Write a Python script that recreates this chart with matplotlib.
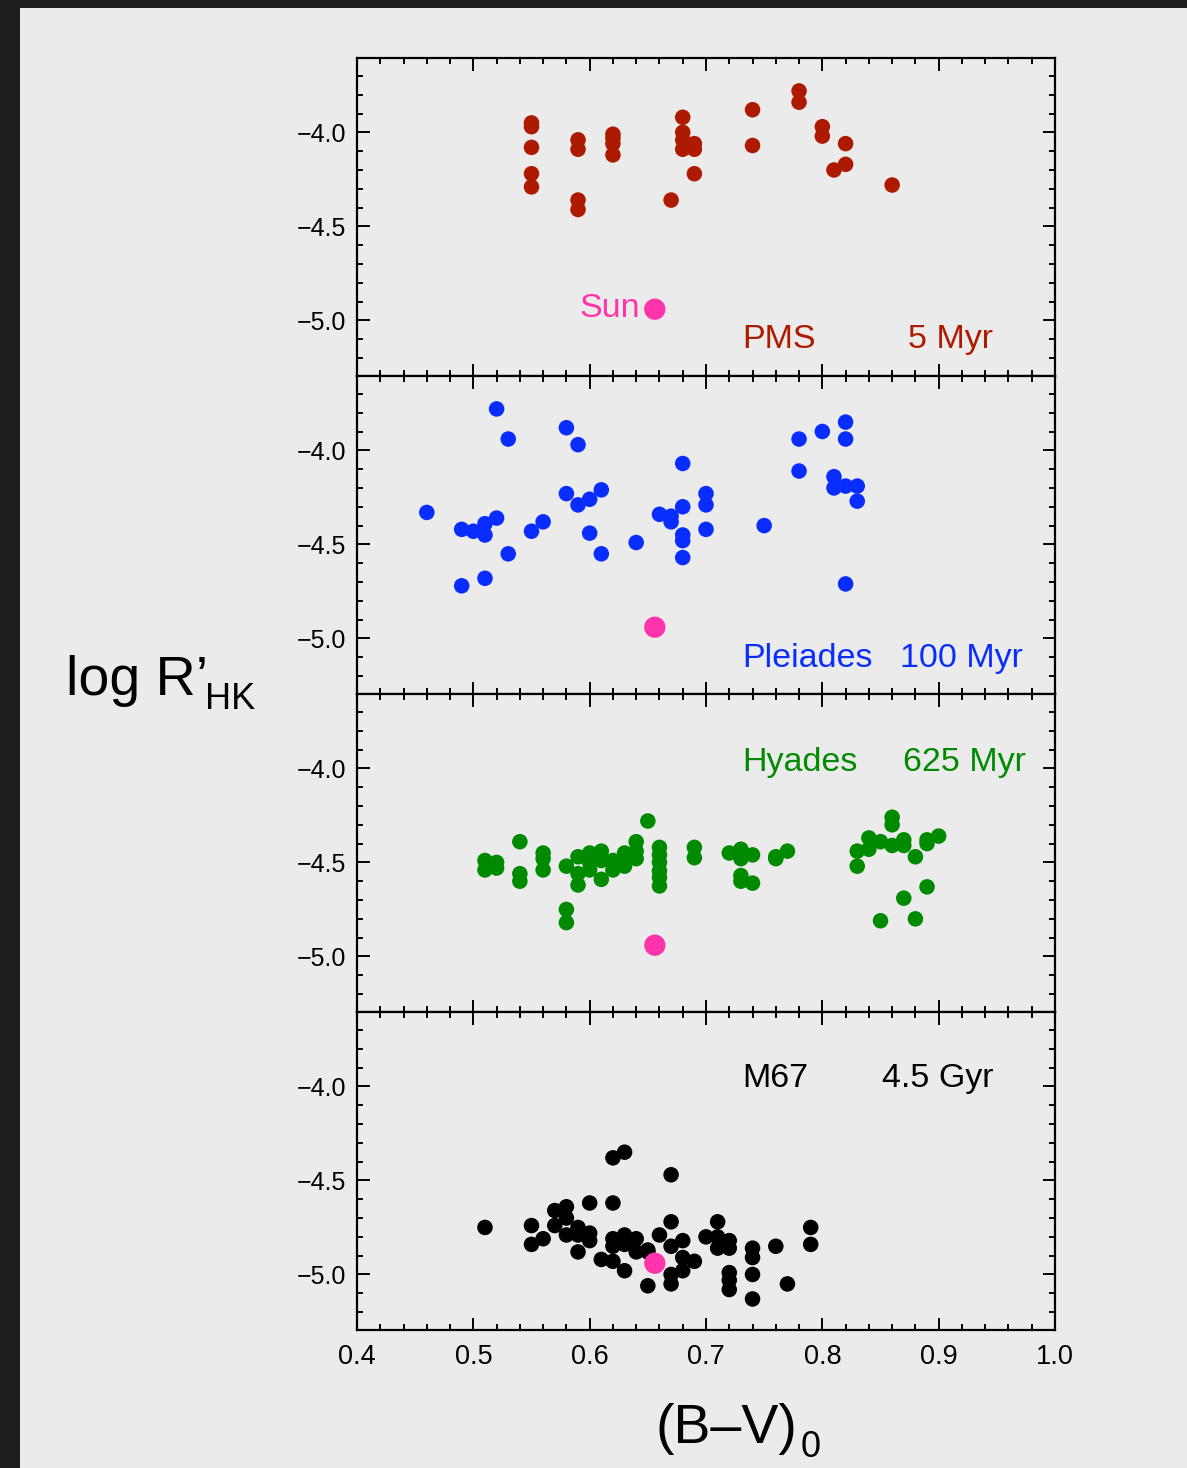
import numpy as np
import matplotlib
matplotlib.use("Agg")
import matplotlib.pyplot as plt
from matplotlib.patches import Rectangle
from matplotlib.ticker import MultipleLocator

plt.rcParams['font.family'] = ['Liberation Sans', 'DejaVu Sans']

# ---- data: (B-V)0 and log R'HK ----
bv_pms = [0.55, 0.55, 0.55, 0.55, 0.55, 0.59, 0.59, 0.59, 0.59,
          0.62, 0.62, 0.62, 0.62, 0.67, 0.68, 0.68, 0.68, 0.68,
          0.69, 0.69, 0.69, 0.74, 0.74, 0.78, 0.78, 0.80, 0.80,
          0.81, 0.82, 0.82, 0.86]
r_pms = [-3.95, -3.97, -4.08, -4.22, -4.29, -4.04, -4.09, -4.36, -4.41,
         -4.01, -4.03, -4.06, -4.12, -4.36, -3.92, -4.00, -4.04, -4.09,
         -4.06, -4.09, -4.22, -3.88, -4.07, -3.78, -3.84, -3.97, -4.02,
         -4.20, -4.06, -4.17, -4.28]

bv_ple = [0.46, 0.49, 0.49, 0.50, 0.51, 0.51, 0.51, 0.52, 0.52, 0.53, 0.53,
          0.55, 0.56, 0.58, 0.58, 0.59, 0.59, 0.60, 0.60, 0.61, 0.61, 0.64,
          0.66, 0.67, 0.67, 0.68, 0.68, 0.68, 0.68, 0.68, 0.70, 0.70, 0.70,
          0.75, 0.78, 0.78, 0.80, 0.81, 0.81, 0.82, 0.82, 0.82, 0.83, 0.83,
          0.82]
r_ple = [-4.33, -4.42, -4.72, -4.43, -4.39, -4.45, -4.68, -3.78, -4.36,
         -3.94, -4.55, -4.43, -4.38, -3.88, -4.23, -3.97, -4.29, -4.26,
         -4.44, -4.21, -4.55, -4.49, -4.34, -4.35, -4.38, -4.07, -4.30,
         -4.45, -4.48, -4.57, -4.23, -4.29, -4.42, -4.40, -3.94, -4.11,
         -3.90, -4.14, -4.20, -3.85, -3.94, -4.19, -4.19, -4.27, -4.71]

bv_hya = [0.51, 0.51, 0.52, 0.52, 0.54, 0.54, 0.54, 0.56, 0.56, 0.56,
          0.58, 0.58, 0.58, 0.59, 0.59, 0.59, 0.60, 0.60, 0.60, 0.61,
          0.61, 0.61, 0.62, 0.62, 0.63, 0.63, 0.64, 0.64, 0.64, 0.65,
          0.66, 0.66, 0.66, 0.66, 0.66, 0.66, 0.69, 0.69, 0.72, 0.73,
          0.73, 0.73, 0.73, 0.74, 0.74, 0.76, 0.76, 0.77, 0.83, 0.83,
          0.84, 0.84, 0.85, 0.85, 0.86, 0.86, 0.86, 0.87, 0.87, 0.87,
          0.88, 0.88, 0.89, 0.89, 0.89, 0.90]
r_hya = [-4.49, -4.54, -4.50, -4.53, -4.39, -4.56, -4.60, -4.45, -4.48, -4.54,
         -4.52, -4.75, -4.82, -4.47, -4.56, -4.62, -4.45, -4.50, -4.54, -4.44,
         -4.49, -4.59, -4.49, -4.54, -4.45, -4.52, -4.39, -4.44, -4.48, -4.28,
         -4.42, -4.46, -4.50, -4.545, -4.58, -4.625, -4.42, -4.475, -4.45, -4.43,
         -4.48, -4.57, -4.60, -4.46, -4.61, -4.47, -4.48, -4.44, -4.44, -4.52,
         -4.37, -4.43, -4.39, -4.81, -4.26, -4.30, -4.41, -4.38, -4.41, -4.69,
         -4.47, -4.80, -4.38, -4.40, -4.63, -4.36]

bv_m67 = [0.51, 0.55, 0.55, 0.56, 0.57, 0.57, 0.58, 0.58, 0.58, 0.59,
          0.59, 0.59, 0.60, 0.60, 0.60, 0.61, 0.62, 0.62, 0.62, 0.62,
          0.62, 0.63, 0.63, 0.63, 0.63, 0.64, 0.64, 0.65, 0.65, 0.65,
          0.66, 0.67, 0.67, 0.67, 0.67, 0.67, 0.68, 0.68, 0.68, 0.69,
          0.70, 0.71, 0.71, 0.71, 0.72, 0.72, 0.72, 0.72, 0.72, 0.74,
          0.74, 0.74, 0.74, 0.76, 0.77, 0.79, 0.79]
r_m67 = [-4.75, -4.74, -4.84, -4.81, -4.66, -4.74, -4.64, -4.70, -4.79, -4.75,
         -4.79, -4.88, -4.62, -4.78, -4.82, -4.92, -4.38, -4.62, -4.81, -4.85,
         -4.93, -4.35, -4.79, -4.84, -4.98, -4.81, -4.88, -4.87, -4.88, -5.06,
         -4.79, -4.47, -4.72, -4.85, -5.00, -5.05, -4.82, -4.91, -4.98, -4.93,
         -4.80, -4.72, -4.80, -4.86, -4.82, -4.86, -4.99, -5.03, -5.08, -4.86,
         -4.91, -5.00, -5.13, -4.85, -5.05, -4.75, -4.84]

sun_bv, sun_r = 0.656, -4.94

panels = [
    (bv_pms, r_pms, '#ad1a00', 'PMS', '5 Myr', 0.874, -5.10),
    (bv_ple, r_ple, '#0a2dff', 'Pleiades', '100 Myr', 0.867, -5.105),
    (bv_hya, r_hya, '#008a00', 'Hyades', '625 Myr', 0.869, -3.968),
    (bv_m67, r_m67, '#000000', 'M67', '4.5 Gyr', 0.851, -3.96),
]

W, H = 1187, 1468
bg = '#ebebeb'
fig = plt.figure(figsize=(W / 100, H / 100), dpi=100, facecolor='#1e1e1e')
fig.patches.append(Rectangle((20 / W, 0), 1 - 20 / W, 1 - 8 / H,
                             transform=fig.transFigure, facecolor=bg,
                             edgecolor='none', zorder=-10))

left, width = 357 / W, (1055 - 357) / W
ph = 318 / H
for i, (bv, r, col, name, age, xage, ytxt) in enumerate(panels):
    top = 58 + i * 318
    ax = fig.add_axes([left, 1 - (top + 318) / H, width, ph])
    ax.set_zorder(2)
    ax.set_facecolor(bg)
    ax.scatter(bv, r, s=125, color=col, edgecolors='none', zorder=3)
    ax.scatter([sun_bv], [sun_r], s=235, color='#ff33aa', edgecolors='none', zorder=4)
    ax.set_xlim(0.4, 1.0)
    ax.set_ylim(-5.295, -3.605)
    ax.xaxis.set_major_locator(MultipleLocator(0.1))
    ax.xaxis.set_minor_locator(MultipleLocator(0.02))
    ax.yaxis.set_major_locator(MultipleLocator(0.5))
    ax.yaxis.set_minor_locator(MultipleLocator(0.1))
    ax.tick_params(which='both', direction='in', top=True, right=True, width=1.4, colors='black')
    ax.tick_params(which='major', length=9, labelsize=18, pad=8)
    ax.tick_params(which='minor', length=4.5)
    ax.set_yticks([-4.0, -4.5, -5.0])
    ax.set_yticklabels(['\u22124.0', '\u22124.5', '\u22125.0'])
    for sp in ax.spines.values():
        sp.set_linewidth(1.6)
    if i < 3:
        ax.tick_params(labelbottom=False)
    else:
        ax.set_xticks(np.round(np.arange(0.4, 1.01, 0.1), 1))
        ax.set_xticklabels([f'{v:.1f}' for v in np.arange(0.4, 1.01, 0.1)])
        ax.tick_params(axis='x', labelsize=19.5, pad=10)
    ax.text(0.731, ytxt, name, color=col, fontsize=24.5, va='center', ha='left')
    ax.text(xage, ytxt, age, color=col, fontsize=24.5, va='center', ha='left')
    if i == 0:
        ax.text(0.643, -4.935, 'Sun', color='#ff33aa', fontsize=24.5, va='center', ha='right')

# y label: log R'HK
fig.text(66 / W, 1 - 695 / H, 'log R\u2019', fontsize=40, va='baseline', ha='left')
fig.text(205 / W, 1 - 709 / H, 'HK', fontsize=26, va='baseline', ha='left')
# x label: (B-V)0
fig.text(797 / W, 1 - 1443 / H, '(B\u2013V)', fontsize=40, va='baseline', ha='right')
fig.text(801 / W, 1 - 1457 / H, '0', fontsize=26, va='baseline', ha='left')

fig.savefig('out.png', dpi=100, facecolor=fig.get_facecolor())
